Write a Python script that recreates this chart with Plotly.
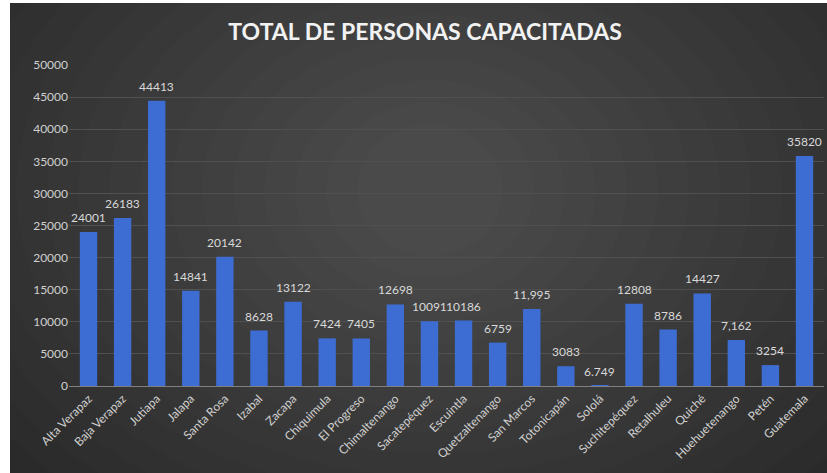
import plotly.graph_objects as go

departamentos = ["Alta Verapaz", "Baja Verapaz", "Jutiapa", "Jalapa", "Santa Rosa", "Izabal",
                 "Zacapa", "Chiquimula", "El Progreso", "Chimaltenango", "Sacatepéquez", "Escuintla",
                 "Quetzaltenango", "San Marcos", "Totonicapán", "Sololá", "Suchitepéquez", "Retalhuleu",
                 "Quiché", "Huehuetenango", "Petén", "Guatemala"]
personas = [24001, 26183, 44413, 14841, 20142, 8628, 13122, 7424, 7405, 12698, 10091, 10186,
            6759, 11995, 3083, 6.749, 12808, 8786, 14427, 7162, 3254, 35820]
etiquetas = ["24001", "26183", "44413", "14841", "20142", "8628", "13122", "7424", "7405", "12698",
             "10091", "10186", "6759", "11,995", "3083", "6.749", "12808", "8786", "14427", "7,162",
             "3254", "35820"]
y_ticks = [0, 5000, 10000, 15000, 20000, 25000, 30000, 35000, 40000, 45000, 50000]

W, H = 827, 473
ML, MR, MT, MB = 69, 3, 65, 87
PW = W - ML - MR
PH = H - MT - MB

def px(x):
    return (x - ML) / PW

def py(y):
    return (H - MB - y) / PH

shapes = [dict(type="rect", xref="paper", yref="paper", x0=px(10), x1=px(828), y0=py(3), y1=py(474),
               fillcolor="#262626", line=dict(width=0), layer="below")]
cx, cy = 430, 190
n = 18
for i in range(n):
    rx = 600 - i * 31
    ry = 440 - i * 22
    shapes.append(dict(type="circle", xref="paper", yref="paper",
                       x0=px(cx - rx), x1=px(cx + rx), y0=py(cy - ry), y1=py(cy + ry),
                       fillcolor="rgba(255,255,255,0.0115)", line=dict(width=0), layer="below"))
# white outside the dark panel
shapes.append(dict(type="rect", xref="paper", yref="paper", x0=px(-5), x1=px(10), y0=py(-5), y1=py(480),
                   fillcolor="white", line=dict(width=0), layer="below"))
shapes.append(dict(type="rect", xref="paper", yref="paper", x0=px(-5), x1=px(830), y0=py(-5), y1=py(3),
                   fillcolor="white", line=dict(width=0), layer="below"))

fig = go.Figure(go.Bar(
    x=departamentos, y=personas,
    marker=dict(color="#3d6dd3", line=dict(width=0)),
    hoverinfo="x+y",
))

annotations = [dict(x=d, y=v, text=t, xref="x", yref="y", showarrow=False,
                    yanchor="bottom", yshift=5,
                    font=dict(color="#d9d9d9", size=12, family="Lato"))
               for d, v, t in zip(departamentos, personas, etiquetas)]

fig.update_layout(
    width=W, height=H,
    margin=dict(l=ML, r=MR, t=MT, b=MB, autoexpand=False),
    paper_bgcolor="white", plot_bgcolor="rgba(0,0,0,0)",
    bargap=0.49,
    shapes=shapes,
    annotations=annotations,
    showlegend=False,
    title=dict(text="<b>TOTAL DE PERSONAS CAPACITADAS</b>", x=0.514, xanchor="center",
               y=0.932, yanchor="middle",
               font=dict(family="Lato", size=23, color="#f2f2f2")),
    font=dict(family="Lato", color="#d9d9d9"),
)
fig.update_xaxes(tickangle=-45, tickfont=dict(size=12, color="#d0d0d0"), automargin=False,
                 showline=True, linecolor="#808080", linewidth=1, ticks="", showgrid=False)
fig.update_yaxes(range=[0, 50000], tickvals=y_ticks, ticktext=[str(v) for v in y_ticks],
                 automargin=False,
                 tickfont=dict(size=12, color="#d0d0d0"), showgrid=True, gridcolor="#505050",
                 gridwidth=1, zeroline=False, ticks="", showline=False)

fig.write_html("out.html", config={"displayModeBar": False},
               post_script="document.body.style.margin='0';document.body.style.overflow='hidden';")
